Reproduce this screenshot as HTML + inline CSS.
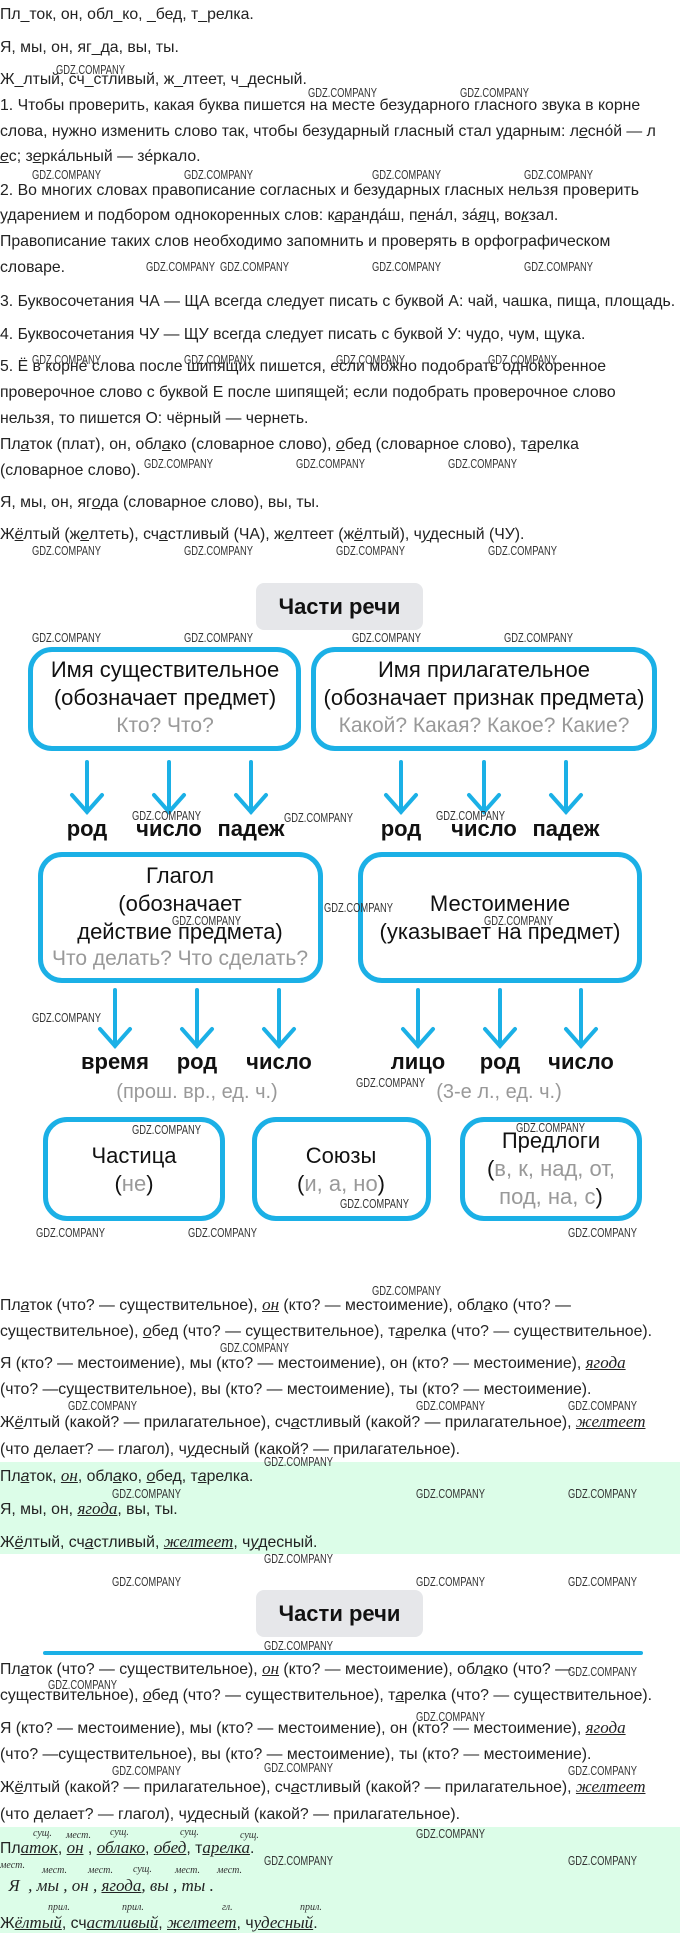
<!DOCTYPE html>
<html><head><meta charset="utf-8"><style>
body{margin:0;width:680px;height:1933px;position:relative;background:#fff;font-family:"Liberation Sans","DejaVu Sans",sans-serif;color:#222;overflow:hidden}
.t{position:absolute;left:0;font-size:15.8px;white-space:nowrap;line-height:19px}
.u{text-decoration:underline;font-style:italic}
.i{font-family:"Liberation Serif",serif;font-style:italic;text-decoration:underline;font-size:17px}
.w{position:absolute;font-size:13px;color:#333;transform:scaleX(0.72);transform-origin:0 0;white-space:nowrap;font-family:"Liberation Sans",sans-serif}
.box{position:absolute;border:5px solid #1bb0e6;border-radius:24px;box-sizing:border-box}
.c{position:absolute;text-align:center;font-size:22px;color:#111;white-space:nowrap;transform:translateX(-50%)}
.g{color:#999}
.c.g{font-size:21px}
.btn{position:absolute;left:256px;width:167px;height:47px;background:#e6e7ea;border-radius:8px;font-size:22px;font-weight:bold;text-align:center;line-height:47px;color:#111}
.green{position:absolute;left:0;width:680px;background:#dcfde8}
.a{position:absolute;font-family:"Liberation Serif",serif;font-style:italic;font-size:10px;color:#333}
</style></head><body>
<div class="t" style="top:5px">Пл_ток, он, обл_ко, _бед, т_релка.</div>
<div class="t" style="top:38px">Я, мы, он, яг_да, вы, ты.</div>
<div class="t" style="top:70px">Ж_лтый, сч_стливый, ж_лтеет, ч_десный.</div>
<div class="t" style="top:96px">1. Чтобы проверить, какая буква пишется на месте безударного гласного звука в корне</div>
<div class="t" style="top:122px">слова, нужно изменить слово так, чтобы безударный гласный стал ударным: л<span class="u">е</span>сно́й — л</div>
<div class="t" style="top:147px"><span class="u">е</span>с; з<span class="u">е</span>рка́льный — зе́ркало.</div>
<div class="t" style="top:181px">2. Во многих словах правописание согласных и безударных гласных нельзя проверить</div>
<div class="t" style="top:206px">ударением и подбором однокоренных слов: к<span class="u">а</span>р<span class="u">а</span>нда́ш, п<span class="u">е</span>на́л, за́<span class="u">я</span>ц, во<span class="u">к</span>зал.</div>
<div class="t" style="top:232px">Правописание таких слов необходимо запомнить и проверять в орфографическом</div>
<div class="t" style="top:258px">словаре.</div>
<div class="t" style="top:292px">3. Буквосочетания ЧА — ЩА всегда следует писать с буквой А: чай, чашка, пища, площадь.</div>
<div class="t" style="top:325px">4. Буквосочетания ЧУ — ЩУ всегда следует писать с буквой У: чудо, чум, щука.</div>
<div class="t" style="top:357px">5. Ё в корне слова после шипящих пишется, если можно подобрать однокоренное</div>
<div class="t" style="top:383px">проверочное слово с буквой Е после шипящей; если подобрать проверочное слово</div>
<div class="t" style="top:409px">нельзя, то пишется О: чёрный — чернеть.</div>
<div class="t" style="top:435px">Пл<span class="u">а</span>ток (плат), он, обл<span class="u">а</span>ко (словарное слово), <span class="u">о</span>бед (словарное слово), т<span class="u">а</span>релка</div>
<div class="t" style="top:461px">(словарное слово).</div>
<div class="t" style="top:493px">Я, мы, он, яг<span class="u">о</span>да (словарное слово), вы, ты.</div>
<div class="t" style="top:525px">Ж<span class="u">ё</span>лтый (ж<span class="u">е</span>лтеть), сч<span class="u">а</span>стливый (ЧА), ж<span class="u">е</span>лтеет (ж<span class="u">ё</span>лтый), ч<span class="u">у</span>десный (ЧУ).</div>

<div class="btn" style="top:583px">Части речи</div>

<div class="box" style="left:28px;top:647px;width:273px;height:104px"></div>
<div class="c" style="left:165px;top:657px">Имя существительное</div>
<div class="c" style="left:165px;top:685px">(обозначает предмет)</div>
<div class="c g" style="left:165px;top:714px">Кто? Что?</div>
<div class="box" style="left:311px;top:647px;width:346px;height:104px"></div>
<div class="c" style="left:484px;top:657px">Имя прилагательное</div>
<div class="c" style="left:484px;top:685px">(обозначает признак предмета)</div>
<div class="c g" style="left:484px;top:714px">Какой? Какая? Какое? Какие?</div>

<svg style="position:absolute;left:0;top:0" width="680" height="1933">
<g stroke="#1bb0e6" stroke-width="4" fill="none" stroke-linecap="round">
<path d="M87 762V812M72 795L87 812L102 795"/><path d="M169 762V812M154 795L169 812L184 795"/><path d="M251 762V812M236 795L251 812L266 795"/>
<path d="M401 762V812M386 795L401 812L416 795"/><path d="M484 762V812M469 795L484 812L499 795"/><path d="M566 762V812M551 795L566 812L581 795"/>
<path d="M115 990V1046M100 1029L115 1046L130 1029"/><path d="M197 990V1046M182 1029L197 1046L212 1029"/><path d="M279 990V1046M264 1029L279 1046L294 1029"/>
<path d="M418 990V1046M403 1029L418 1046L433 1029"/><path d="M500 990V1046M485 1029L500 1046L515 1029"/><path d="M581 990V1046M566 1029L581 1046L596 1029"/>
</g>
<line x1="45" y1="1653" x2="641" y2="1653" stroke="#1bb0e6" stroke-width="4" stroke-linecap="round"/>
</svg>

<div class="c" style="left:87px;top:816px;font-weight:bold">род</div>
<div class="c" style="left:169px;top:816px;font-weight:bold">число</div>
<div class="c" style="left:251px;top:816px;font-weight:bold">падеж</div>
<div class="c" style="left:401px;top:816px;font-weight:bold">род</div>
<div class="c" style="left:484px;top:816px;font-weight:bold">число</div>
<div class="c" style="left:566px;top:816px;font-weight:bold">падеж</div>

<div class="box" style="left:38px;top:852px;width:285px;height:131px"></div>
<div class="c" style="left:180px;top:863px">Глагол</div>
<div class="c" style="left:180px;top:891px">(обозначает</div>
<div class="c" style="left:180px;top:919px">действие предмета)</div>
<div class="c g" style="left:180px;top:947px">Что делать? Что сделать?</div>
<div class="box" style="left:358px;top:852px;width:284px;height:131px"></div>
<div class="c" style="left:500px;top:891px">Местоимение</div>
<div class="c" style="left:500px;top:919px">(указывает на предмет)</div>

<div class="c" style="left:115px;top:1049px;font-weight:bold">время</div>
<div class="c" style="left:197px;top:1049px;font-weight:bold">род</div>
<div class="c" style="left:279px;top:1049px;font-weight:bold">число</div>
<div class="c" style="left:418px;top:1049px;font-weight:bold">лицо</div>
<div class="c" style="left:500px;top:1049px;font-weight:bold">род</div>
<div class="c" style="left:581px;top:1049px;font-weight:bold">число</div>
<div class="c g" style="left:197px;top:1081px;font-size:20px">(прош. вр., ед. ч.)</div>
<div class="c g" style="left:499px;top:1081px;font-size:20px">(3-е л., ед. ч.)</div>

<div class="box" style="left:43px;top:1117px;width:182px;height:104px"></div>
<div class="c" style="left:134px;top:1143px">Частица</div>
<div class="c" style="left:134px;top:1171px">(<span class="g">не</span>)</div>
<div class="box" style="left:252px;top:1117px;width:179px;height:104px"></div>
<div class="c" style="left:341px;top:1143px">Союзы</div>
<div class="c" style="left:341px;top:1171px">(<span class="g">и, а, но</span>)</div>
<div class="box" style="left:460px;top:1117px;width:182px;height:104px"></div>
<div class="c" style="left:551px;top:1128px">Предлоги</div>
<div class="c" style="left:551px;top:1156px">(<span class="g">в, к, над, от,</span></div>
<div class="c" style="left:551px;top:1184px"><span class="g">под, на, с</span>)</div>

<div class="t" style="top:1295px">Пл<span class="u">а</span>ток (что? — существительное), <span class="i">он</span> (кто? — местоимение), обл<span class="u">а</span>ко (что? —</div>
<div class="t" style="top:1322px">существительное), <span class="u">о</span>бед (что? — существительное), т<span class="u">а</span>релка (что? — существительное).</div>
<div class="t" style="top:1353px">Я (кто? — местоимение), мы (кто? — местоимение), он (кто? — местоимение), <span class="i">яг<u>о</u>да</span></div>
<div class="t" style="top:1380px">(что? —существительное), вы (кто? — местоимение), ты (кто? — местоимение).</div>
<div class="t" style="top:1412px">Ж<span class="u">ё</span>лтый (какой? — прилагательное), сч<span class="u">а</span>стливый (какой? — прилагательное), <span class="i">ж<u>е</u>лтеет</span></div>
<div class="t" style="top:1440px">(что делает? — глагол), ч<span class="u">у</span>десный (какой? — прилагательное).</div>
<div class="green" style="top:1462px;height:92px"></div>
<div class="t" style="top:1466px">Пл<span class="u">а</span>ток, <span class="i">он</span>, обл<span class="u">а</span>ко, <span class="u">о</span>бед, т<span class="u">а</span>релка.</div>
<div class="t" style="top:1499px">Я, мы, он, <span class="i">яг<u>о</u>да</span>, вы, ты.</div>
<div class="t" style="top:1532px">Ж<span class="u">ё</span>лтый, сч<span class="u">а</span>стливый, <span class="i">ж<u>е</u>лтеет</span>, ч<span class="u">у</span>десный.</div>

<div class="btn" style="top:1590px">Части речи</div>

<div class="t" style="top:1659px">Пл<span class="u">а</span>ток (что? — существительное), <span class="i">он</span> (кто? — местоимение), обл<span class="u">а</span>ко (что? —</div>
<div class="t" style="top:1686px">существительное), <span class="u">о</span>бед (что? — существительное), т<span class="u">а</span>релка (что? — существительное).</div>
<div class="t" style="top:1718px">Я (кто? — местоимение), мы (кто? — местоимение), он (кто? — местоимение), <span class="i">яг<u>о</u>да</span></div>
<div class="t" style="top:1745px">(что? —существительное), вы (кто? — местоимение), ты (кто? — местоимение).</div>
<div class="t" style="top:1777px">Ж<span class="u">ё</span>лтый (какой? — прилагательное), сч<span class="u">а</span>стливый (какой? — прилагательное), <span class="i">ж<u>е</u>лтеет</span></div>
<div class="t" style="top:1805px">(что делает? — глагол), ч<span class="u">у</span>десный (какой? — прилагательное).</div>
<div class="green" style="top:1827px;height:106px"></div>
<div class="a" style="left:33px;top:1828px">сущ.</div><div class="a" style="left:66px;top:1830px">мест.</div><div class="a" style="left:110px;top:1827px">сущ.</div><div class="a" style="left:180px;top:1827px">сущ.</div><div class="a" style="left:240px;top:1830px">сущ.</div>
<div class="t" style="top:1838px">Пл<span class="i">аток</span>, <span class="i">он</span> , <span class="i">облако</span>, <span class="i">обед</span>, т<span class="i">арелка</span>.</div>
<div class="a" style="left:0px;top:1860px">мест.</div><div class="a" style="left:42px;top:1865px">мест.</div><div class="a" style="left:88px;top:1865px">мест.</div><div class="a" style="left:133px;top:1864px">сущ.</div><div class="a" style="left:175px;top:1865px">мест.</div><div class="a" style="left:217px;top:1865px">мест.</div>
<div class="t" style="top:1876px;font-family:'Liberation Serif',serif;font-style:italic;font-size:17px">&nbsp;&nbsp;Я&nbsp;&nbsp;, мы&nbsp;, он&nbsp;, <u>ягода</u>, вы&nbsp;, ты&nbsp;.</div>
<div class="a" style="left:48px;top:1902px">прил.</div><div class="a" style="left:122px;top:1902px">прил.</div><div class="a" style="left:222px;top:1902px">гл.</div><div class="a" style="left:300px;top:1902px">прил.</div>
<div class="t" style="top:1913px">Ж<span class="i">ёлтый</span>, сч<span class="i">астливый</span>, <span class="i">желтеет</span>, ч<span class="i">удесный</span>.</div>

<div class="w" style="left:56px;top:62px">GDZ.COMPANY</div>
<div class="w" style="left:308px;top:85px">GDZ.COMPANY</div>
<div class="w" style="left:460px;top:85px">GDZ.COMPANY</div>
<div class="w" style="left:32px;top:167px">GDZ.COMPANY</div>
<div class="w" style="left:184px;top:167px">GDZ.COMPANY</div>
<div class="w" style="left:372px;top:167px">GDZ.COMPANY</div>
<div class="w" style="left:524px;top:167px">GDZ.COMPANY</div>
<div class="w" style="left:146px;top:259px">GDZ.COMPANY</div>
<div class="w" style="left:220px;top:259px">GDZ.COMPANY</div>
<div class="w" style="left:372px;top:259px">GDZ.COMPANY</div>
<div class="w" style="left:524px;top:259px">GDZ.COMPANY</div>
<div class="w" style="left:32px;top:352px">GDZ.COMPANY</div>
<div class="w" style="left:184px;top:352px">GDZ.COMPANY</div>
<div class="w" style="left:336px;top:352px">GDZ.COMPANY</div>
<div class="w" style="left:488px;top:352px">GDZ.COMPANY</div>
<div class="w" style="left:144px;top:456px">GDZ.COMPANY</div>
<div class="w" style="left:296px;top:456px">GDZ.COMPANY</div>
<div class="w" style="left:448px;top:456px">GDZ.COMPANY</div>
<div class="w" style="left:32px;top:543px">GDZ.COMPANY</div>
<div class="w" style="left:184px;top:543px">GDZ.COMPANY</div>
<div class="w" style="left:336px;top:543px">GDZ.COMPANY</div>
<div class="w" style="left:488px;top:543px">GDZ.COMPANY</div>
<div class="w" style="left:32px;top:630px">GDZ.COMPANY</div>
<div class="w" style="left:184px;top:630px">GDZ.COMPANY</div>
<div class="w" style="left:352px;top:630px">GDZ.COMPANY</div>
<div class="w" style="left:504px;top:630px">GDZ.COMPANY</div>
<div class="w" style="left:132px;top:808px">GDZ.COMPANY</div>
<div class="w" style="left:284px;top:810px">GDZ.COMPANY</div>
<div class="w" style="left:436px;top:808px">GDZ.COMPANY</div>
<div class="w" style="left:324px;top:900px">GDZ.COMPANY</div>
<div class="w" style="left:172px;top:913px">GDZ.COMPANY</div>
<div class="w" style="left:484px;top:913px">GDZ.COMPANY</div>
<div class="w" style="left:32px;top:1010px">GDZ.COMPANY</div>
<div class="w" style="left:356px;top:1075px">GDZ.COMPANY</div>
<div class="w" style="left:132px;top:1122px">GDZ.COMPANY</div>
<div class="w" style="left:516px;top:1120px">GDZ.COMPANY</div>
<div class="w" style="left:340px;top:1196px">GDZ.COMPANY</div>
<div class="w" style="left:36px;top:1225px">GDZ.COMPANY</div>
<div class="w" style="left:188px;top:1225px">GDZ.COMPANY</div>
<div class="w" style="left:568px;top:1225px">GDZ.COMPANY</div>
<div class="w" style="left:372px;top:1283px">GDZ.COMPANY</div>
<div class="w" style="left:220px;top:1340px">GDZ.COMPANY</div>
<div class="w" style="left:68px;top:1398px">GDZ.COMPANY</div>
<div class="w" style="left:416px;top:1398px">GDZ.COMPANY</div>
<div class="w" style="left:568px;top:1398px">GDZ.COMPANY</div>
<div class="w" style="left:264px;top:1454px">GDZ.COMPANY</div>
<div class="w" style="left:112px;top:1486px">GDZ.COMPANY</div>
<div class="w" style="left:416px;top:1486px">GDZ.COMPANY</div>
<div class="w" style="left:568px;top:1486px">GDZ.COMPANY</div>
<div class="w" style="left:264px;top:1551px">GDZ.COMPANY</div>
<div class="w" style="left:112px;top:1574px">GDZ.COMPANY</div>
<div class="w" style="left:416px;top:1574px">GDZ.COMPANY</div>
<div class="w" style="left:568px;top:1574px">GDZ.COMPANY</div>
<div class="w" style="left:264px;top:1638px">GDZ.COMPANY</div>
<div class="w" style="left:568px;top:1664px">GDZ.COMPANY</div>
<div class="w" style="left:48px;top:1677px">GDZ.COMPANY</div>
<div class="w" style="left:416px;top:1709px">GDZ.COMPANY</div>
<div class="w" style="left:112px;top:1763px">GDZ.COMPANY</div>
<div class="w" style="left:264px;top:1760px">GDZ.COMPANY</div>
<div class="w" style="left:568px;top:1763px">GDZ.COMPANY</div>
<div class="w" style="left:416px;top:1826px">GDZ.COMPANY</div>
<div class="w" style="left:264px;top:1853px">GDZ.COMPANY</div>
<div class="w" style="left:568px;top:1853px">GDZ.COMPANY</div>
</body></html>
